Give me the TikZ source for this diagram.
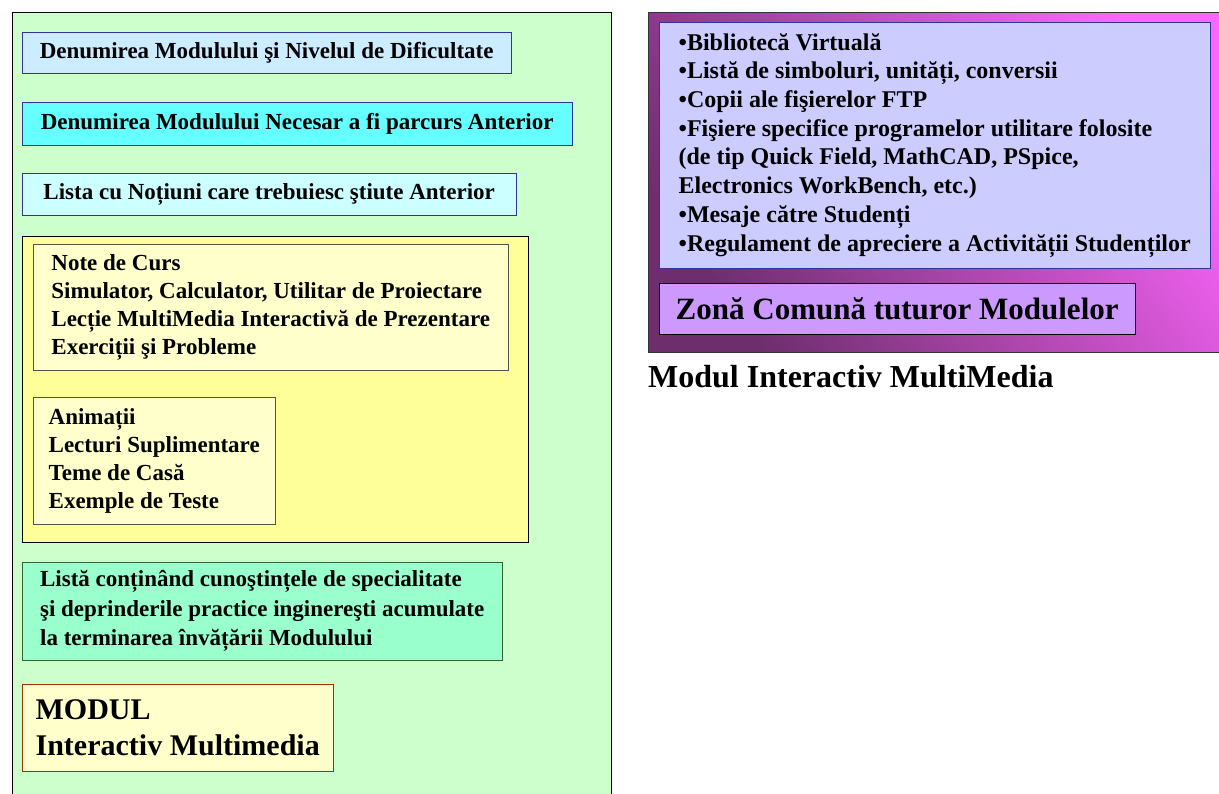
\documentclass[tikz,border=0pt]{standalone}
\usepackage{fontspec}
\setmainfont{Liberation Serif}
\definecolor{fundverde}{HTML}{CCFFCC}
\definecolor{albastrudes}{HTML}{CCECFF}
\definecolor{cyanviu}{HTML}{66FFFF}
\definecolor{cyandes}{HTML}{CCFFFF}
\definecolor{galben}{HTML}{FFFF99}
\definecolor{galbendes}{HTML}{FFFFCC}
\definecolor{turcoaz}{HTML}{99FFCC}
\definecolor{lavanda}{HTML}{CCCCFF}
\definecolor{mov}{HTML}{CC99FF}
\definecolor{roz}{HTML}{FF66FF}
\definecolor{violetinchis}{HTML}{6E2E6E}
\definecolor{bleumarin}{HTML}{333399}
\definecolor{maro}{HTML}{993300}
\definecolor{maslina}{HTML}{55553A}
\definecolor{verdeinchis}{HTML}{336633}
\begin{document}
\begin{tikzpicture}[
    x=1pt, y=-1pt,
    panel/.style={draw, anchor=north west, align=left, inner sep=0pt,
        font=\bfseries\fontsize{23}{28}\selectfont},
    mare/.style={font=\bfseries\fontsize{30}{36}\selectfont}
]
    \clip (0,0) rectangle (1219,794);

    % zona modulului
    \node[panel, fill=fundverde, minimum width=599pt, minimum height=800pt] (modul) at (12,12) {};
    \node[panel, fill=albastrudes, draw=bleumarin, minimum width=489pt, minimum height=41pt] (nivel) at (22,32) {Denumirea Modulului şi Nivelul de Dificultate};
    \node[panel, fill=cyanviu, draw=bleumarin, minimum width=550pt, minimum height=43pt] (anterior) at (22,102) {Denumirea Modulului Necesar a fi parcurs Anterior};
    \node[panel, fill=cyandes, draw=bleumarin, minimum width=494pt, minimum height=42pt] (notiuni) at (22,173) {Lista cu Noțiuni care trebuiesc ştiute Anterior};

    \node[panel, fill=galben, minimum width=506pt, minimum height=306pt] (continut) at (22,236) {};
    \node[panel, fill=galbendes, draw=maslina, minimum width=475pt, minimum height=126pt] (curs) at (33,244)
        {Note de Curs\\Simulator, Calculator, Utilitar de Proiectare\\Lecție MultiMedia Interactivă de Prezentare\\Exerciții şi Probleme};
    \node[panel, fill=galbendes, draw=maslina, minimum width=242pt, minimum height=127pt] (extra) at (33,397)
        {Animații\\Lecturi Suplimentare\\Teme de Casă\\Exemple de Teste};

    \node[panel, fill=turcoaz, draw=verdeinchis, minimum width=480pt, minimum height=98pt,
        font=\bfseries\fontsize{23}{29.5}\selectfont] (rezultat) at (22,562)
        {Listă conținând cunoştințele de specialitate\\şi deprinderile practice inginereşti acumulate\\la terminarea învățării Modulului};
    \node[panel, mare, fill=galbendes, draw=maro, minimum width=311pt, minimum height=87pt] (eticheta) at (22,684)
        {MODUL\\Interactiv Multimedia};

    % zona comuna
    \node[panel, draw=black!80, top color=roz, bottom color=violetinchis, shading angle=-55,
        minimum width=590pt, minimum height=340pt] (comun) at (648,12) {};
    \node[panel, fill=lavanda, draw=bleumarin, minimum width=551pt, minimum height=246pt,
        font=\bfseries\fontsize{24}{28.7}\selectfont] (resurse) at (659,22)
        {•Bibliotecă Virtuală\\•Listă de simboluri, unități, conversii\\•Copii ale fişierelor FTP\\•Fişiere specifice programelor utilitare folosite\\(de tip Quick Field, MathCAD, PSpice,\\Electronics WorkBench, etc.)\\•Mesaje către Studenți\\•Regulament de apreciere a Activității Studenților};
    \node[panel, fill=mov, minimum width=476pt, minimum height=51pt,
        font=\bfseries\fontsize{31}{36}\selectfont] (titluzona) at (659,283) {Zonă Comună tuturor Modulelor};

    \node[anchor=base west, inner sep=0pt, font=\bfseries\fontsize{32}{38}\selectfont] (titlu) at (648,388) {Modul Interactiv MultiMedia};
\end{tikzpicture}
\end{document}
